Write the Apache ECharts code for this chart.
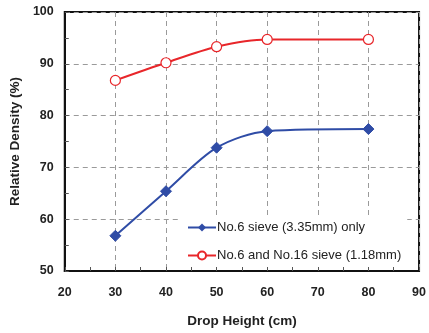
<!DOCTYPE html>
<html>
<head>
<meta charset="utf-8">
<script src="https://cdn.jsdelivr.net/npm/echarts@6/dist/echarts.min.js"></script>
<style>
  html, body { margin: 0; padding: 0; background: #fff; }
  #chart { width: 429px; height: 333px; }
</style>
</head>
<body>
<div id="chart"></div>
<script>
// Drop heights (cm) and measured relative densities (%)
const dropHeights = [30, 40, 50, 60, 80];
const sieve6Only = [56.8, 65.4, 73.8, 77.0, 77.4];
const sieve6and16 = [86.8, 90.2, 93.3, 94.7, 94.7];
const seriesNames = ['No.6 sieve (3.35mm) only', 'No.6 and No.16 sieve (1.18mm)'];

const pairs = (xs, ys) => xs.map((x, i) => [x, ys[i]]);

const axisFont = { fontFamily: 'Liberation Sans', fontWeight: 'bold', color: '#222' };

const chart = echarts.init(document.getElementById('chart'), null, { renderer: 'canvas' });
chart.setOption({
  animation: false,
  backgroundColor: '#fff',
  grid: {
    left: 64, top: 12, right: 7, bottom: 61,
    show: true, borderColor: '#111', borderWidth: 2, backgroundColor: 'transparent'
  },
  legend: {
    orient: 'vertical',
    left: 181, top: 216,
    backgroundColor: '#fff',
    padding: [5, 6, 5, 6],
    itemWidth: 28, itemHeight: 10, itemGap: 15,
    textStyle: { fontFamily: 'Liberation Sans', fontSize: 13, color: '#222', padding: [0, 0, 0, -4] },
    data: seriesNames
  },
  xAxis: {
    type: 'value', min: 20, max: 90, interval: 10,
    name: 'Drop Height (cm)', nameLocation: 'middle', nameGap: 43,
    nameTextStyle: Object.assign({ fontSize: 13.5 }, axisFont),
    axisLine: { show: true, lineStyle: { color: '#111', width: 2 } },
    axisTick: { show: true, inside: true, length: 4, lineStyle: { color: '#555' } },
    minorTick: { show: true, splitNumber: 2, length: 4, lineStyle: { color: '#555' } },
    axisLabel: Object.assign({ fontSize: 12.5, margin: 15 }, axisFont),
    splitLine: { show: true, lineStyle: { color: '#9a9a9a', type: [5, 4], width: 1 } }
  },
  yAxis: {
    type: 'value', min: 50, max: 100, interval: 10,
    name: 'Relative Density (%)', nameLocation: 'middle', nameGap: 42,
    nameTextStyle: Object.assign({ fontSize: 13.5 }, axisFont),
    axisLine: { show: true, lineStyle: { color: '#111', width: 2 } },
    axisTick: { show: true, inside: true, length: 4, lineStyle: { color: '#555' } },
    minorTick: { show: true, splitNumber: 2, length: 4, lineStyle: { color: '#555' } },
    axisLabel: Object.assign({ fontSize: 12.5, margin: 11 }, axisFont),
    splitLine: { show: true, lineStyle: { color: '#9a9a9a', type: [5, 4], width: 1 } }
  },
  series: [
    {
      name: seriesNames[0], type: 'line', data: pairs(dropHeights, sieve6Only),
      smooth: 0.3, symbol: 'diamond', symbolSize: 11,
      lineStyle: { color: '#2f4ca6', width: 2 },
      itemStyle: { color: '#2f4ca6', borderColor: '#2f4ca6' }
    },
    {
      name: seriesNames[1], type: 'line', data: pairs(dropHeights, sieve6and16),
      smooth: 0.3, symbol: 'circle', symbolSize: 10,
      lineStyle: { color: '#e8262a', width: 2 },
      itemStyle: { color: '#fff', borderColor: '#e8262a', borderWidth: 1.2 }
    }
  ]
});
</script>
</body>
</html>
